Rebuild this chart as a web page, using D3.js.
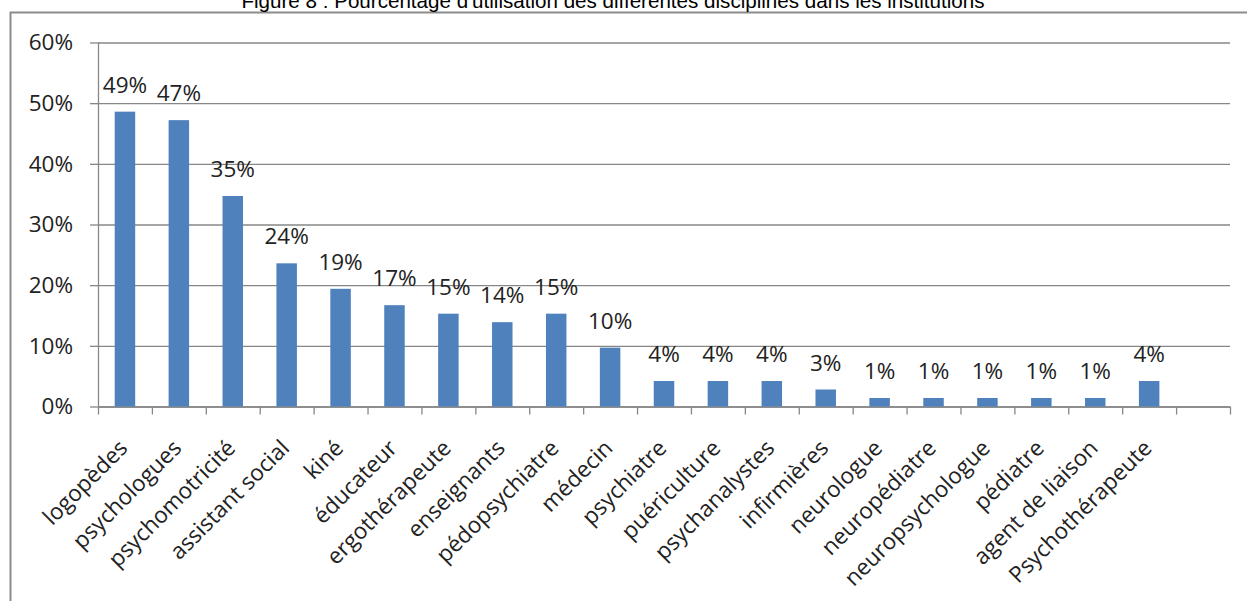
<!DOCTYPE html>
<html>
<head>
<meta charset="utf-8">
<script src="https://cdn.jsdelivr.net/npm/d3@7"></script>
<style>
  body { margin: 0; background: #fff; }
  svg { display: block; }
</style>
</head>
<body>
<svg width="1247" height="601"></svg>
<script>
// data (percent of institutions)
const categories = ["logopèdes", "psychologues", "psychomotricité", "assistant social", "kiné",
    "éducateur", "ergothérapeute", "enseignants", "pédopsychiatre", "médecin",
    "psychiatre", "puériculture", "psychanalystes", "infirmières", "neurologue",
    "neuropédiatre", "neuropsychologue", "pédiatre", "agent de liaison", "Psychothérapeute"];
const values = [48.6, 47.2, 34.7, 23.6, 19.4, 16.7, 15.3, 13.9, 15.3, 9.7,
    4.2, 4.2, 4.2, 2.8, 1.4, 1.4, 1.4, 1.4, 1.4, 4.2];
const yTicks = [0, 10, 20, 30, 40, 50, 60];
const title = "Figure 8 : Pourcentage d'utilisation des différentes disciplines dans les institutions";

const svg = d3.select("svg");
const plotLeft = 98, plotRight = 1230, plotTop = 42.5, plotBottom = 406.5;
const slots = categories.length + 1; // excel left an empty slot at the end

const x = d3.scaleBand()
    .domain(d3.range(slots))
    .range([plotLeft, plotRight])
    .paddingInner(0.62)
    .paddingOuter(0.31);

const xEdge = d3.scaleLinear().domain([0, slots]).range([plotLeft, plotRight]);

const y = d3.scaleLinear().domain([0, 60]).range([plotBottom, plotTop]);

const gridColor = "#878787";
const textFont = "'Open Sans', sans-serif";
const textSize = "22.5px";

// frame around the chart (cut off on the right)
svg.append("path")
    .attr("d", "M10.5,601V12.5H1247")
    .attr("fill", "none")
    .attr("stroke", "#8c8c8c")
    .attr("stroke-width", 2);

svg.append("text")
    .attr("x", 613)
    .attr("y", 8)
    .attr("text-anchor", "middle")
    .style("font-family", "'Liberation Sans', Arial, sans-serif")
    .style("font-size", "20.6px")
    .attr("fill", "#000")
    .text(title);

// gridlines
const grid = svg.append("g")
    .attr("transform", `translate(${plotLeft},0)`)
    .call(d3.axisLeft(y).tickValues(yTicks).tickSize(-(plotRight - plotLeft)).tickFormat(""));
grid.select(".domain").remove();
grid.selectAll("line").attr("stroke", gridColor).attr("stroke-width", 1.3);

// y axis
const yAxis = svg.append("g")
    .attr("transform", `translate(${plotLeft},0)`)
    .call(d3.axisLeft(y).tickValues(yTicks).tickSize(8).tickPadding(17)
        .tickFormat(d => d + "%"));
yAxis.select(".domain").attr("stroke", gridColor).attr("stroke-width", 1.3)
    .attr("d", `M0.5,${plotTop}V${plotBottom}`);
yAxis.selectAll("line").attr("stroke", gridColor).attr("stroke-width", 1.3);
yAxis.selectAll("text")
    .style("font-family", textFont)
    .style("font-size", textSize)
    .attr("fill", "#222");

// x axis with ticks on the slot edges
const xAxis = svg.append("g")
    .attr("transform", `translate(0,${plotBottom})`)
    .call(d3.axisBottom(xEdge).tickValues(d3.range(slots + 1)).tickSize(8).tickFormat(""));
xAxis.selectAll("line").attr("stroke", gridColor).attr("stroke-width", 1.3);
xAxis.select(".domain").attr("stroke", gridColor).attr("stroke-width", 1.3)
    .attr("d", `M${plotLeft},0.5H${plotRight}`);

// bars
svg.selectAll(".bar")
    .data(values)
    .enter()
    .append("rect")
    .attr("class", "bar")
    .attr("x", (d, i) => x(i))
    .attr("y", d => y(d))
    .attr("width", x.bandwidth())
    .attr("height", d => plotBottom - y(d))
    .attr("fill", "#4f81bd");

// value labels
svg.selectAll(".val")
    .data(values)
    .enter()
    .append("text")
    .attr("class", "val")
    .attr("x", (d, i) => x(i) + x.bandwidth() / 2)
    .attr("y", d => y(d) - 19)
    .attr("text-anchor", "middle")
    .style("font-family", textFont)
    .style("font-size", textSize)
    .attr("fill", "#222")
    .text(d => Math.round(d) + "%");

// category labels, rotated
svg.selectAll(".cat")
    .data(categories)
    .enter()
    .append("text")
    .attr("class", "cat")
    .attr("transform", (d, i) =>
        `translate(${x(i) + x.bandwidth() / 2 + 4},${plotBottom + 43}) rotate(-45)`)
    .attr("text-anchor", "end")
    .style("font-family", textFont)
    .style("font-size", textSize)
    .attr("fill", "#222")
    .text(d => d);
</script>
</body>
</html>
